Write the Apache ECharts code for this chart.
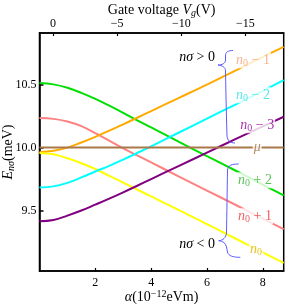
<!DOCTYPE html>
<html><head><meta charset="utf-8">
<script src="https://cdn.jsdelivr.net/npm/echarts@6/dist/echarts.min.js"></script>
<style>html,body{margin:0;padding:0;background:#fff}#c{width:287px;height:305px}</style>
</head><body><div id="c"></div>
<script>
// alpha (10^-12 eVm) sample positions
const ALPHA   = [0, 0.5, 1, 1.5, 2, 2.5, 3, 3.5, 4, 5, 6, 7, 8, 8.75];
// energies (meV)
const E_N0    = [9.957, 9.947, 9.915, 9.876, 9.830, 9.776, 9.722, 9.667, 9.612, 9.503, 9.392, 9.280, 9.168, 9.084];
const E_N0M1  = [9.963, 9.975, 10.000, 10.040, 10.085, 10.135, 10.185, 10.237, 10.290, 10.395, 10.500, 10.610, 10.720, 10.800];
const E_N0M2  = [9.683, 9.692, 9.720, 9.763, 9.810, 9.855, 9.905, 9.957, 10.010, 10.120, 10.230, 10.340, 10.450, 10.535];
const E_N0M3  = [9.415, 9.425, 9.460, 9.500, 9.547, 9.595, 9.645, 9.697, 9.750, 9.855, 9.960, 10.065, 10.168, 10.245];
const E_N0P1  = [10.235, 10.228, 10.207, 10.170, 10.115, 10.055, 9.994, 9.938, 9.882, 9.770, 9.659, 9.548, 9.436, 9.352];
const E_N0P2  = [10.513, 10.502, 10.475, 10.435, 10.387, 10.333, 10.276, 10.217, 10.160, 10.045, 9.932, 9.820, 9.706, 9.621];
const MU = 10.0;
const X_TICKS  = [2, 4, 6, 8];
const Y_TICKS  = [9.5, 10.0, 10.5];
const VG_TICKS = [0, 5, 10, 15];   // shown as 0, −5, −10, −15

const SERIF = "'Liberation Serif', 'DejaVu Serif', serif";
const pts = arr => ALPHA.map((a, i) => [a, arr[i]]);

const CURVES = [
  {name: 'n0+2', data: E_N0P2, color: '#00e000'},
  {name: 'n0+1', data: E_N0P1, color: '#ff8080'},
  {name: 'n0-1', data: E_N0M1, color: '#ffaa00'},
  {name: 'n0',   data: E_N0,   color: '#ffff00'},
  {name: 'n0-2', data: E_N0M2, color: '#00ffff'},
  {name: 'n0-3', data: E_N0M3, color: '#800080'}
];

const LABELS = [
  {pos: [7.65, 10.693], text: '{i|n}{s|0}{t| − 1}', color: '#f8a070'},
  {pos: [7.65, 10.415], text: '{i|n}{s|0}{t| − 2}', color: '#30e0e0'},
  {pos: [7.80, 10.177], text: '{i|n}{s|0}{t| − 3}', color: '#900090'},
  {pos: [7.80, 10.000], text: '{i|μ}', color: '#a07040'},
  {pos: [7.72, 9.740],  text: '{i|n}{s|0}{t| + 2}', color: '#30b030'},
  {pos: [7.72, 9.455],  text: '{i|n}{s|0}{t| + 1}', color: '#e83838'},
  {pos: [7.76, 9.190],  text: '{i|n}{s|0}', color: '#e0b000'}
];

const labelRich = {
  i: {fontFamily: SERIF, fontStyle: 'italic', fontSize: 14, lineHeight: 16},
  s: {fontFamily: SERIF, fontSize: 10, lineHeight: 10, verticalAlign: 'bottom'},
  t: {fontFamily: SERIF, fontSize: 14, lineHeight: 16}
};

const series = CURVES.map(c => ({
  type: 'line', name: c.name, data: pts(c.data), smooth: 0.4, showSymbol: false,
  lineStyle: {color: c.color, width: 2}, itemStyle: {color: c.color}, z: 2, silent: true
}));
series.push({
  type: 'line', name: 'mu', data: [[0, MU], [8.75, MU]], showSymbol: false,
  lineStyle: {color: '#a9784a', width: 2}, z: 2, silent: true
});
series.push({
  type: 'scatter', symbolSize: 0, z: 5, silent: true,
  data: LABELS.map(l => ({value: l.pos, label: {formatter: l.text, color: l.color}})),
  label: {show: true, position: 'inside', backgroundColor: '#fff', padding: [0, 1], rich: labelRich}
});

const axisCommon = {
  axisLine: {show: true, onZero: false, lineStyle: {color: '#000', width: 1.5}},
  splitLine: {show: false},
  nameMoveOverlap: false
};

// curly braces (annotation), segments in pixels: [x1,y1,cpx1,cpy1,cpx2,cpy2,x2,y2]
const BRACE_UP = [
  [233,50.5, 228,50.5, 225.5,52, 225.5,56],
  [225.5,56, 225.5,57, 225.5,59, 225.5,60],
  [225.5,60, 225.5,63.5, 222,65, 218,65],
  [218,65, 222,65.5, 225.5,67, 225.5,71],
  [225.5,71, 226,100, 226.5,120, 227,136],
  [227,136, 227.5,140.5, 230,143, 235,143]
];
const BRACE_DN = [
  [238.7,164, 232,164, 228,165, 227.5,170],
  [227.5,170, 227.2,190, 226.8,215, 226.5,233],
  [226.5,233, 226,237.5, 223,240.5, 218.7,240.7],
  [218.7,240.7, 223,241, 225.5,243, 226.5,247],
  [226.5,247, 226.8,249, 227.2,250.5, 227.5,252],
  [227.5,252, 228.5,256, 233,257.3, 240.3,257.3]
];
const braceEls = BRACE_UP.concat(BRACE_DN).map(s => ({
  type: 'bezierCurve', z: 10, silent: true,
  shape: {x1: s[0], y1: s[1], cpx1: s[2], cpy1: s[3], cpx2: s[4], cpy2: s[5], x2: s[6], y2: s[7]},
  style: {fill: 'none', stroke: '#5a5aff', lineWidth: 1}
}));

const chart = echarts.init(document.getElementById('c'));
chart.setOption({
  animation: false,
  grid: {left: 39.5, right: 3.3, top: 33, bottom: 34, outerBoundsMode: 'none', containLabel: false,
         show: true, borderColor: '#000', borderWidth: 1.5, backgroundColor: 'transparent'},
  xAxis: [
    Object.assign({
      type: 'value', min: 0, max: 8.75, position: 'bottom',
      axisTick: {inside: true, length: 3, customValues: X_TICKS, lineStyle: {color: '#000', width: 1.2}},
      axisLabel: {customValues: X_TICKS, fontFamily: SERIF, fontSize: 12, color: '#000', margin: 6},
      name: '{a|α}{t|(10}{p|−12}{t|eVm)}', nameLocation: 'middle', nameGap: 18,
      nameTextStyle: {color: '#000', rich: {
        a: {fontFamily: SERIF, fontStyle: 'italic', fontSize: 14, color: '#000', lineHeight: 16},
        t: {fontFamily: SERIF, fontSize: 14, color: '#000', lineHeight: 16},
        p: {fontFamily: SERIF, fontSize: 10, color: '#000', lineHeight: 10, verticalAlign: 'top'}
      }}
    }, axisCommon),
    Object.assign({
      type: 'value', min: -1.053, max: 17.98, position: 'top',
      axisTick: {inside: true, length: 3, customValues: VG_TICKS, lineStyle: {color: '#000', width: 1.2}},
      axisLabel: {customValues: VG_TICKS, fontFamily: SERIF, fontSize: 12, color: '#000', margin: 3,
                  formatter: v => v === 0 ? '0' : '−' + v},
      name: '{t|Gate voltage }{v|V}{s|g}{t|(V)}', nameLocation: 'middle', nameGap: 15,
      nameTextStyle: {color: '#000', rich: {
        t: {fontFamily: SERIF, fontSize: 14, color: '#000', lineHeight: 16},
        v: {fontFamily: SERIF, fontStyle: 'italic', fontSize: 14, color: '#000', lineHeight: 16},
        s: {fontFamily: SERIF, fontStyle: 'italic', fontSize: 10, color: '#000', lineHeight: 10, verticalAlign: 'bottom'}
      }}
    }, axisCommon)
  ],
  yAxis: Object.assign({
    type: 'value', min: 9.02, max: 10.91,
    axisTick: {inside: true, length: 4, customValues: Y_TICKS, lineStyle: {color: '#000', width: 1.5}},
    axisLabel: {customValues: Y_TICKS, fontFamily: SERIF, fontSize: 12, color: '#000', margin: 3,
                formatter: v => v.toFixed(1)},
    name: '{e|E}{s|nσ}{t|(meV)}', nameLocation: 'middle', nameGap: 23, nameRotate: 90,
    nameTextStyle: {color: '#000', rich: {
      e: {fontFamily: SERIF, fontStyle: 'italic', fontSize: 14, color: '#000', lineHeight: 16},
      s: {fontFamily: SERIF, fontStyle: 'italic', fontSize: 10, color: '#000', lineHeight: 10, verticalAlign: 'bottom'},
      t: {fontFamily: SERIF, fontSize: 14, color: '#000', lineHeight: 16}
    }}
  }, axisCommon),
  series: series,
  graphic: braceEls.concat([
    {type: 'text', z: 10, silent: true, x: 215, y: 57.5,
     style: {text: '{i|nσ}{t| > 0}', align: 'right', verticalAlign: 'middle',
       rich: {i: {fontFamily: SERIF, fontStyle: 'italic', fontSize: 14, fill: '#000'},
              t: {fontFamily: SERIF, fontSize: 14, fill: '#000'}}}},
    {type: 'text', z: 10, silent: true, x: 215, y: 244.5,
     style: {text: '{i|nσ}{t| < 0}', align: 'right', verticalAlign: 'middle',
       rich: {i: {fontFamily: SERIF, fontStyle: 'italic', fontSize: 14, fill: '#000'},
              t: {fontFamily: SERIF, fontSize: 14, fill: '#000'}}}}
  ])
});
</script></body></html>
